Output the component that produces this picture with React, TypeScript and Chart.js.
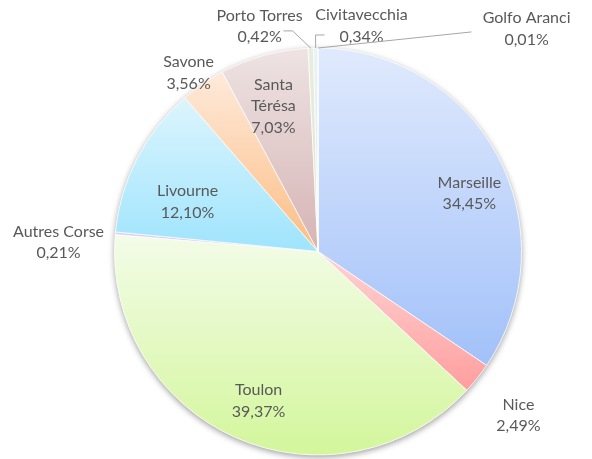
import React, { useEffect, useRef } from "react";
import { Chart, registerables } from "chart.js";

Chart.register(...registerables);

// ---- data ----
const categories = [
  "Marseille",
  "Nice",
  "Toulon",
  "Autres Corse",
  "Livourne",
  "Savone",
  "Santa Térésa",
  "Porto Torres",
  "Civitavecchia",
  "Golfo Aranci",
];
const shares = [34.45, 2.49, 39.37, 0.21, 12.1, 3.56, 7.03, 0.42, 0.34, 0.01];
const labelLines = [
  ["Marseille"],
  ["Nice"],
  ["Toulon"],
  ["Autres Corse"],
  ["Livourne"],
  ["Savone"],
  ["Santa", "Térésa"],
  ["Porto Torres"],
  ["Civitavecchia"],
  ["Golfo Aranci"],
];

// ---- styles ----
const topColors = [
  "#e0eafd",
  "#ffd4d4",
  "#f3fce8",
  "#ddd2f4",
  "#dcf5fd",
  "#feeadb",
  "#eee3e3",
  "#e8eedd",
  "#eaf1f8",
  "#d8e4ee",
];
const bottomColors = [
  "#a2c1f9",
  "#ff9e9e",
  "#d3f69b",
  "#cdbdee",
  "#9fe4fd",
  "#fcbd83",
  "#d6b4b4",
  "#dbe5cc",
  "#dce8f4",
  "#c8d8e8",
];
// label block centres, in units of the pie radius, relative to the pie centre
const labelOffsets: [number, number][] = [
  [0.744, -0.285],
  [0.985, 0.806],
  [-0.292, 0.735],
  [-1.275, -0.044],
  [-0.641, -0.243],
  [-0.636, -0.877],
  [-0.219, -0.715],
  [-0.287, -1.106],
  [0.214, -1.108],
  [1.025, -1.093],
];
// leader lines (elbow, end) in units of the pie radius
const leaders: ({ elbow: [number, number]; end: [number, number] } | null)[] = [
  null,
  null,
  null,
  null,
  null,
  null,
  null,
  { elbow: [-0.125, -1.084], end: [-0.17, -1.084] },
  { elbow: [-0.012, -1.064], end: [0.032, -1.064] },
  { elbow: [0.754, -1.079], end: [0.754, -1.079] },
];

const FONT = "16px Lato, 'Open Sans', sans-serif";
const TEXT_COLOR = "#595959";
const LINE_H = 21.5;

function fmt(v: number) {
  return v.toFixed(2).replace(".", ",") + "%";
}

function sliceGradient(chart: any, index: number) {
  const area = chart.chartArea;
  if (!area) return topColors[index];
  const cx = (area.left + area.right) / 2;
  const cy = (area.top + area.bottom) / 2;
  const r = Math.min(area.right - area.left, area.bottom - area.top) / 2;
  const total = shares.reduce((a, b) => a + b, 0);
  let cum = 0;
  for (let i = 0; i < index; i++) cum += shares[i];
  const a0 = -Math.PI / 2 + (cum / total) * Math.PI * 2;
  const a1 = a0 + (shares[index] / total) * Math.PI * 2;
  const ys = [cy, cy + Math.sin(a0) * r, cy + Math.sin(a1) * r];
  // check extreme points (top = -PI/2, bottom = PI/2)
  for (const ext of [-Math.PI / 2, Math.PI / 2, (3 * Math.PI) / 2]) {
    if (ext >= a0 && ext <= a1) ys.push(cy + Math.sin(ext) * r);
  }
  const y0 = Math.min(...ys);
  const y1 = Math.max(...ys);
  const g = chart.ctx.createLinearGradient(0, y0, 0, Math.max(y1, y0 + 1));
  g.addColorStop(0, topColors[index]);
  g.addColorStop(1, bottomColors[index]);
  return g;
}

const shadowPlugin = {
  id: "pieShadow",
  beforeDatasetsDraw(chart: any) {
    const meta = chart.getDatasetMeta(0);
    const arc = meta.data[0];
    if (!arc) return;
    const { x, y, outerRadius } = arc.getProps(["x", "y", "outerRadius"], true);
    const ctx = chart.ctx;
    ctx.save();
    ctx.shadowColor = "rgba(0,0,0,0.4)";
    ctx.shadowBlur = 6;
    ctx.shadowOffsetY = 2;
    ctx.beginPath();
    ctx.arc(x, y, outerRadius, 0, Math.PI * 2);
    ctx.fillStyle = "#eeeeee";
    ctx.fill();
    ctx.restore();
  },
};

const labelPlugin = {
  id: "pieLabels",
  afterDatasetsDraw(chart: any) {
    const meta = chart.getDatasetMeta(0);
    const ctx = chart.ctx;
    ctx.save();
    meta.data.forEach((arc: any, i: number) => {
      const { x, y, outerRadius, startAngle, endAngle } = arc.getProps(
        ["x", "y", "outerRadius", "startAngle", "endAngle"],
        true
      );
      const R = outerRadius;
      const ld = leaders[i];
      if (ld) {
        const mid = (startAngle + endAngle) / 2;
        ctx.beginPath();
        ctx.moveTo(x + Math.cos(mid) * R, y + Math.sin(mid) * R);
        ctx.lineTo(x + ld.elbow[0] * R, y + ld.elbow[1] * R);
        ctx.lineTo(x + ld.end[0] * R, y + ld.end[1] * R);
        ctx.strokeStyle = "#a6a6a6";
        ctx.lineWidth = 1;
        ctx.stroke();
      }
      const lines = [...labelLines[i], fmt(shares[i])];
      const lx = x + labelOffsets[i][0] * R;
      const ly = y + labelOffsets[i][1] * R;
      ctx.font = FONT;
      ctx.fillStyle = TEXT_COLOR;
      ctx.textAlign = "center";
      ctx.textBaseline = "middle";
      const startY = ly - ((lines.length - 1) * LINE_H) / 2;
      lines.forEach((t, k) => ctx.fillText(t, lx, startY + k * LINE_H));
    });
    ctx.restore();
  },
};

export default function App() {
  const ref = useRef<HTMLCanvasElement | null>(null);
  useEffect(() => {
    if (!ref.current) return;
    const chart = new Chart(ref.current, {
      type: "pie",
      data: {
        labels: categories,
        datasets: [
          {
            data: shares,
            backgroundColor: (c: any) => sliceGradient(c.chart, c.dataIndex),
            borderColor: "rgba(255,255,255,0.75)",
            borderWidth: 1,
            hoverOffset: 0,
          },
        ],
      },
      options: {
        responsive: false,
        animation: false,
        events: [],
        layout: { padding: { left: 114, right: 70, top: 47, bottom: 3 } },
        plugins: {
          legend: { display: false },
          tooltip: { enabled: false },
        },
      },
      plugins: [shadowPlugin, labelPlugin],
    });
    return () => chart.destroy();
  }, []);
  return (
    <div style={{ position: "fixed", left: 0, top: 0, width: 592, height: 459, background: "#fff" }}>
      <canvas ref={ref} width={592} height={459} style={{ width: 592, height: 459 }} />
    </div>
  );
}
